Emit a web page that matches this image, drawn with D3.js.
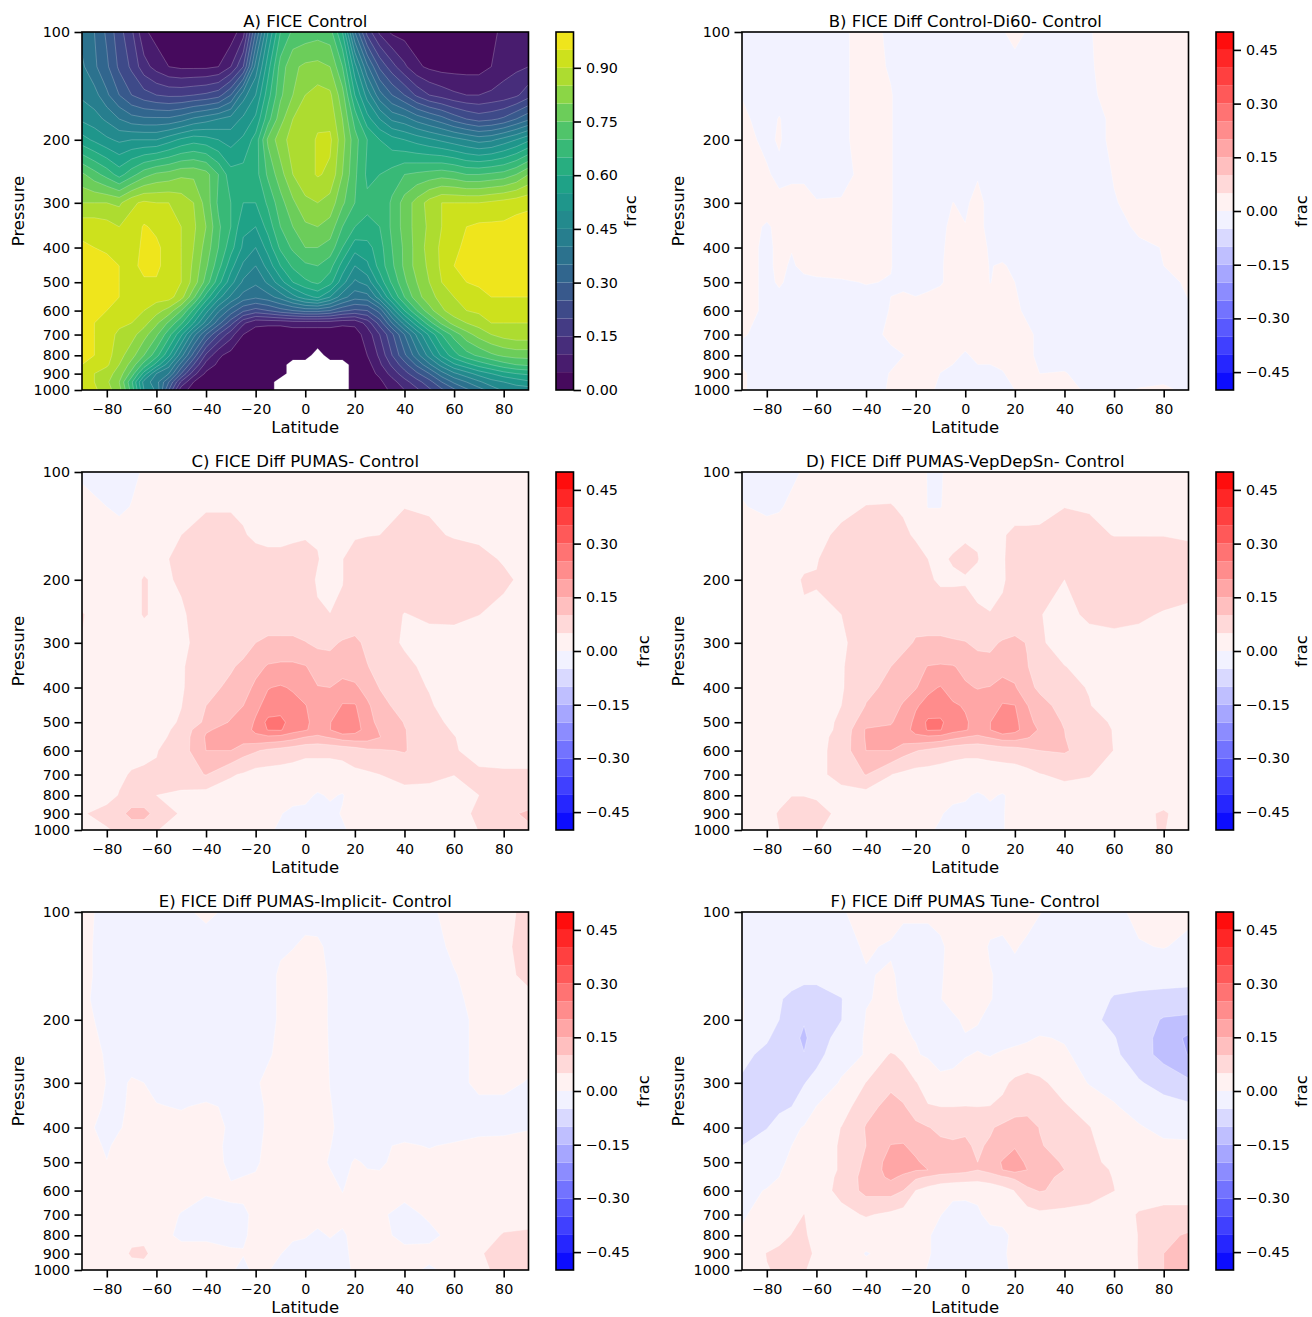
<!DOCTYPE html>
<html><head><meta charset="utf-8">
<script src="https://cdn.jsdelivr.net/npm/d3@7/dist/d3.min.js"></script>
<style>html,body{margin:0;background:#fff}svg{display:block}text{font-family:"DejaVu Sans";fill:#000}</style>
</head><body><svg id="c" width="1312" height="1317"></svg>
<script>
const latsControl = d3.range(-90, 91, 5);
const levelsControl = [100,125,150,175,200,250,300,350,400,450,500,550,600,650,700,800,850,900,950,1000];
const latsDiff = [-90,-80,-75,-70,-65,-60,-50,-40,-30,-25,-20,-15,-10,-5,0,5,10,15,20,25,30,40,50,60,70,80,90];
const levelsDiff = [100,125,150,175,200,250,300,350,400,450,500,600,700,800,900,1000];
const levelsPeak = [100,125,150,175,200,250,300,350,400,450,500,525,550,600,700,800,900,1000];
const levelsTune = [100,125,150,175,200,225,250,300,350,400,450,500,525,550,600,700,800,900,1000];
const xTicks = [-80,-60,-40,-20,0,20,40,60,80];
const yTicks = [100,200,300,400,500,600,700,800,900,1000];
const barTicksControl = [0,.15,.3,.45,.6,.75,.9];
const barTicksDiff = [-.45,-.3,-.15,0,.15,.3,.45];
const titles = ["A) FICE Control","B) FICE Diff Control-Di60- Control","C) FICE Diff PUMAS- Control","D) FICE Diff PUMAS-VepDepSn- Control","E) FICE Diff PUMAS-Implicit- Control","F) FICE Diff PUMAS Tune- Control"];

// cloud ice fraction, percent (rows: pressure levels, columns: latitudes)
const ficeControl = [
[38,35,29,22,16,6,3,2,1,1,1,1,2,8,30,50,65,71,72,73,72,60,35,18,9,4,3,2,2,2,2,2,3,4,6,7,8],
[41,36,31,24,19,12,8,5,4,4,4,5,10,20,42,58,72,79,81,81.5,80,70,52,36,24,17,11,6,4,3,3,3,3,5,8,9,10],
[44,42,36,30,25,22,20,19,19,20,21,23,30,43,50,63,74,80,85,87,86,77,60,48,37,30,25,19,15,13,11,10,10,11,12,14,18],
[49,47,44,40,37,36,36,36,38,41,43,45,47,51,56,68,78,85,88,89,88.5,80,68,57,50,44,42,38,35,32,28,25,23,24,26,30,34],
[57,54,51,49,50,50,50,53,56,58,57,55,53,56,62,76,83,87,88,90.5,91,82,72,65,60,57,55,53,51,49,47,45,43,44,47,50,54],
[76,72,68,63,68,73,76,77,79,79,77,70,62,62,63,71,78,85,88,90.5,89,80,71,64,65,67,70,71,72,73,72,70,70,71,72,75,80],
[85,85,85,84,89,91,90,90,88,85,78,69,65,60,60,66,73,79,84,85,83,76,70,66,65,71,77,82,87,90,90,90,90,91,92,93,94],
[93,93,92,90,92,95.5,94,92,90,86,80,71,65,56,55,62,70,75,79,80,78,70,65,64,65,71,77,82,86,90,93,95,96,96,96,97,97],
[96,95,94,92,93,96,96,93,90,85,78,70,62,54,50,57,66,71,75,75,73,65,57,58,63,70,76,82,87,91,94,96,97,97,97,98,98],
[98,97,97,95,94,96,96,93,90,84,76,67,57,49,45,52,60,66,69,70,67,58,50,54,62,69,76,82,86,91,95,97,97,97,97,97,97],
[98,97,97,95,94,94.5,94.5,93,90,83,73,62,52,44,41,46,53,60,64,66,62,52,44,47,57,66,74,80,85,90,93,95,96,97,97,97,97],
[98,97,96,95,93,92,92,92,87,76,63,52,44,38,36,38,42,48,53,56,50,42,37,38,48,60,70,78,83,87,90,92,93,95,95,95,95],
[97,96,95,94,92,90,87,83,75,64,52,41,33,26,23,25,28,30,32,32,30,26,24,25,32,47,60,70,78,84,88,90,91,92,92,91,91],
[96,95,93,91,90,87,81,74,66,55,43,32,22,11,6,6,6,7,7,7,7,6,6,12,22,35,47,58,68,76,82,85,87,90,90,90,90],
[96,95,92,89,87,82,76,67,56,42,30,20,12,5,3,2,2,2,2,2,2,2,3,7,15,24,35,46,56,65,72,78,82,85,87,88,88],
[96,95,92,87,82,75,67,56,42,28,14,6,3,1.5,1,1,1,1,1,-1,1,1,2,5,11,20,29,38,47,56,63,68,71,74,76,77,77],
[95,94,91,85,78,68,58,47,33,20,8,4,2,1,1,1,1,-1,-1,-1,-1,-1,1,3,9,16,23,31,39,47,54,58,62,65,68,70,71],
[91,90,87,83,73,58,45,40,25,12,4,2,1,1,1,1,1,-1,-1,-1,-1,-1,1,3,6,12,18,24,30,38,44,48,52,55,58,60,61],
[93,90,86,80,66,48,42,30,14,5,2,1,1,1,1,1,-1,-1,-1,-1,-1,-1,1,2,4,8,13,18,23,30,36,40,44,48,50,52,54],
[95,91,87,82,68,50,44,25,7,3,1,1,1,1,1,1,-1,-1,-1,-1,-1,-1,1,1,3,6,10,14,19,24,29,34,38,42,46,47,47]];

const diffDi60 = [
[-2,-2,-2,-2,-2,-2,-1,2,-1,-2,-2,-2,-2,-2,-2,-2,-2,-0.5,2,-0.5,-2,-2,-0.3,2,2,2,2],
[-2,-2,-2,-2,-2,-2,-1,2,-0.5,-2,-2,-2,-2,-2,-2,-2,-2,-2,-2,-2,-2,-2,-0.5,2,2,2,2],
[-0.2,-2,-2,-2,-2,-2,-1,2,0.3,-2,-2,-2,-2,-2,-2,-2,-2,-2,-2,-2,-2,-2,-1,2,2,2,2],
[1,-2,0.3,-2,-2,-2,-1,2,0.3,-2,-2,-2,-2,-2,-2,-2,-2,-2,-2,-2,-2,-2,-2,1,2,2,2],
[1.5,-1,0.5,-2,-2,-2,-1,2,0.3,-2,-2,-2,-2,-2,-2,-2,-2,-2,-2,-2,-2,-2,-2,1,2,2,2],
[2,0.5,-1,-1,-1,-2,-2,2,0.3,-2,-2,-2,-2,-2,-2,-0.3,-2,-2,-2,-2,-2,-2,-2,0.2,2,2,2],
[2,2,1,2,2,0.3,0.5,2,0.3,-2,-2,-2,-2,0.05,-0.5,1,-1,-2,-2,-2,-2,-2,-2,-0.2,1,2,2],
[2,-0.5,1,2,2,2,2,2,0.2,-2,-2,-2,-1,1,0.1,1,-1,-2,-2,-2,-2,-2,-2,-1,0.5,1,2],
[2,-1,1,0.2,2,2,2,2,0.2,-2,-2,-2,-0.5,1,1,1,-0.3,-2,-2,-2,-2,-2,-2,-2,-0.5,0.1,2],
[2,-1,1,-0.5,1,2,2,2,0.2,-2,-2,-2,-0.3,1,2,2,-0.2,0.5,-1,-2,-2,-2,-2,-2,-1,0,2],
[2,-1,0.5,-1,-1,-1,-0.5,0.2,-0.2,-1,-1,-0.5,-0.3,1,2,2,-0.1,1,0,-1,-2,-2,-2,-2,-2,-1,0.5],
[1,-0.5,-2,-2,-2,-2,-2,-2,0.2,2,1,1,2,2,2,2,2,2,1,-1,-2,-2,-2,-2,-2,-2,-0.3],
[0.3,-1,-2,-2,-2,-2,-2,-2,1,2,2,2,2,2,2,2,2,2,2,1,-1,-2,-2,-2,-2,-2,-2],
[-1,-2,-2,-2,-2,-2,-2,-2,-1,-0.1,1,2,2,1,-0.5,1,1,1,2,1,-1,-2,-2,-2,-2,-2,-2],
[0.5,-2,-2,-2,-2,-2,-2,-2,0.2,2,2,2,-0.1,-1,-1,-1,-1,-0.2,1,2,0,0.3,-2,-2,-2,-2,-2],
[0.5,-2,-2,-2,-2,-2,-2,-2,0.5,2,2,1,-1,-2,-2,-2,-2,-1,0,2,2,2,-1,-1,0.3,1,-1]];

const diffPumas = [
[-1,-1,-1,-1,0.5,2,2,2,2,2,2,2,2,2,2,2,2,2,2,2,2,2,2,2,2,2,2],
[2,0,-1,0.2,2,3,3,4.5,4.5,4,4,4,4,4,4,4,4,4,4,4,4,4.8,4.5,4,3.5,3,3],
[2,2,2,3,3,3.5,5,7,7,5.5,4,4,4,4,4.5,4.5,4.5,4.5,4.5,4.8,5,8,6,4.5,4,3.5,3],
[2,2,2,2.5,3,4,6,8,8,8,7,6,6,7,7,5.3,3,4.9,7,8,8,9,9,8,6.5,4.5,3],
[2,2,2,3,5.5,4,5.5,8,8,8,8,8,8,8,7,4.5,3,4.9,7,8,8,9,9,9,8,6,3.5],
[5.3,2.5,2.5,3,5.5,4,4.5,7,8,8,8,7,7,7,6.5,5.5,5.1,5.5,7,8,8,4.8,6,6.5,5.1,3.5,2],
[4.9,2,2,2,2,3,4.5,6,7,8,10,11,11,11,10.2,9,9,10.5,11,9,7,4.5,3,2.5,2,2,2],
[2,2,2,2,2.5,3,4.5,8,9.5,11,13.5,15.5,16,16,15.3,13,12,13,12,10.2,8.5,6,4,3,2,2,2],
[2,2,2,2,2.5,3,4.5,8.5,11,13,16,19.8,20.5,19.5,17,15.2,15,16.5,16,13,9.8,6.5,4.8,3,2,2,2],
[2,2,2,2,2,3,4.9,10,13,15,19,21.5,22,21.5,20.3,17,16,20.5,20.5,16,12,7.5,5.5,3,2,2,2],
[2,2,2,2,2.5,3,5.5,11,15.5,17.5,20.5,26.5,27,22,21,18,19.8,23,22,17,13.5,9.8,6.5,4,2,2,2],
[2,2,2,2,2.5,3,6.5,14.5,16.5,18,21,25.3,25.5,22,20.5,18,19.9,23.5,22,18,14.5,10.2,7.5,4.5,2,2,2],
[2,2,2,2,2.5,3.5,7,15.5,18,18,19,19,18.5,17,15,14,15.5,17.5,18,17.5,15.2,10.2,8,5.2,2.5,2,2],
[2,2.5,3,3,3.5,4.8,7.5,15,15,12,10.5,9,8,7,6,6,6,6.5,7.5,9,9.5,10.3,7.5,5.5,3,2,2],
[2,3,4,5.5,6,5.5,8,10.2,5.5,4.5,3,3,3,3,3,3,3,3,4,4.3,5,7,6.5,5.1,6,6,6],
[2,3,5.3,6,6,5,4,3,2.5,2.5,2,2,2,1.5,1,-0.5,0.5,-0.3,2,2.5,3,3,3,3,5,6,6],
[4.5,7,8,12,12,8,4.5,3,2.5,2.5,2,1,0.2,-1,-1,-1,-1,0.3,2,2.5,3,3,3,3,6,8.5,11],
[3,4.5,6,6.5,6.5,5.2,3,2,2,2,2,0.5,-0.5,-1,-1,-1,-1,-0.5,1,2,2.5,3,3,3,5.1,7,9]];

const diffVepDepSn = [
[-1,-1,-1,-1,0.5,2,2,3,3,3,2,-0.2,-0.5,2,3,3,3,3,3,3,3,3,3,3,3,3,3],
[0.3,-1,-0.5,1,3,3,4,5.1,5.2,4.5,3,-0.2,-0.2,2,3,3.5,4,4,4,4,4.5,4.9,4.5,4,4,3.5,3],
[1,2,2,3,3.5,4,5.8,8,8,5.8,4.5,4,4,4,4.5,4.5,4.5,4.8,5.5,5.5,5.3,7.5,6.5,4.8,4.8,4.8,4],
[2,2,3,3,4,4.8,7,9,9,8,6.5,5,4.5,5.3,6,5.2,3,4.5,7,8,8,9,9,9,9,8.5,8],
[2,2,2,4,5.4,5.2,7,9,9,8,7,5.5,4.5,4.5,4.7,4,3,4.7,6,7,5.5,5,8,9,9,9,9],
[2,2,2,3,4.5,4.5,5,8,9,9,8,7,7,7,6.5,5.5,5.2,5.5,7,8,5.2,3.5,6,7,6,4.5,3],
[2,2,2,2,2,2.5,4.5,6.5,8,8.5,10.5,11,11,10.5,10.2,9,9,10.5,11,9.8,5.5,3.5,3,3,3,2,2],
[2,2,2,2,2,2.5,4.5,8.5,10,12,13.5,15.2,15.5,15.3,14,12,11.5,13,13,10.2,8,5.1,4,3,2,2,2],
[2,2,2,2,2,2.5,4.5,9,11,13,14.5,19,20.3,17.5,15.5,14.8,15.2,17,15.5,11.5,9,6,4.8,3,2,2,2],
[2,2,2,2,2,2.5,5,10.2,13,15.5,19.5,21.5,22,20.8,19.5,17,16.5,20.5,20.2,15.2,12,8,5.2,3,2,2,2],
[2,2,2,2,2,3,5.8,13,14.5,17.5,21,26,26,22,20.7,18,19.9,23,21.5,16.5,13.5,9.5,6.5,4.5,2,2,2],
[2,2,2,2,2,3,6,15.5,16,18,21.5,25.5,25.2,22,20.5,18,19.9,23.5,21.5,17.5,14.5,10,7,4.8,2,2,2],
[2,2,2,2,2.5,3.5,6.5,15.5,18,18,19,19,18.5,16.5,15,14,15.5,17.5,17.5,15.5,13,10.1,7.5,4.8,2.5,2,2],
[2,2,2,2,2.5,3.5,7,15,15,12,10.3,9,7.5,6.5,6,6,6.5,7,7.5,9,10,10.5,8,4.9,3,2,2],
[2,2,2,2,2.5,3.5,7,10.2,5.1,4,3,3,3,3,3,3,3,3,3,3.5,4.8,6,5.3,3,2.5,2.5,2.5],
[2,3,4,4.9,4.9,4.5,3,3,3,3,3,2,2,1,0.5,-0.5,0.5,-0.3,1,2,3,3,3,3,3,3,3],
[2,4,5.3,7,7,6.5,4,3,3,3,2,1,0.3,-1,-1,-1,-1,-0.3,1.5,2,3,3,3,3,4,5.5,3],
[2,3.5,5,6,6,5.5,3,3,3,3,2,0.5,-0.5,-1,-1,-1,-1,-0.3,1.5,2,3,3,3,3,4.5,5.2,3]];

const diffImplicit = [
[2,-2,-2,-2,-2,-2,-1,1,-1,-2,-2,-2,-2,-2,-2,-2,-2,-2,-2,-2,-2,-2,-1,2,3,3,7],
[1.5,-2,-2,-2,-2,-2,-2,-2,-2,-2,-2,-2,-1,-0.2,1,0.8,-1,-2,-2,-2,-2,-2,-2,1,3,4,7],
[1.5,-2,-2,-2,-2,-2,-2,-2,-2,-2,-2,-2,1,2,2,1.5,-0.5,-2,-2,-2,-2,-2,-2,-0.3,2,4,6],
[1,-2,-2,-2,-2,-2,-2,-2,-2,-2,-2,-1,0.5,2,2,2,-0.5,-2,-2,-2,-2,-2,-2,-1,1.5,3,4],
[1,-1,-2,-2,-2,-2,-2,-2,-2,-2,-2,-1,0.5,2,2,2,-0.5,-2,-2,-2,-2,-2,-2,-1.5,1,2,2],
[1.5,-0.3,-2,-2,-2,-2,-2,-2,-2,-2,-2,-0.5,1,2,2,2,-0.3,-2,-2,-2,-2,-2,-2,-1.5,1,1.5,1.5],
[2,-0.1,-1,0.5,0,-1,-2,-2,-2,-2,-0.5,1,2,2,2,2,-0.1,-2,-2,-2,-2,-2,-2,-1.5,1,1,-0.3],
[2,-0.5,-1,1,0.1,0.2,-0.2,0.5,-0.5,-2,-2,1,2,2,2,1,0.2,-1,-2,-2,-2,-2,-2,-2,-1,-1,-1],
[1,-1,-0.3,1,1,1,1,1,-0.3,-2,-2,1,2,2,2,1,0.5,-1,-2,-2,-2,-2,-2,-2,-1,-0.8,-0.2],
[2,-0.5,1,1,1,1,1,1,-0.5,-1,-1,1,2,2,2,1,0.1,-1,-1,-1,-0.5,0.5,-0.2,0.5,1,1,1],
[2,0.1,1,1,1,1,1,1,-0.4,-1,-0.5,1,2,2,2,1,-0.3,-1,0.3,-0.3,-0.4,1,1,1,1,1,1],
[2,1,1,1,1,1,1,0.3,0.2,1,1,1,2,2,2,1,1,-0.1,1,1,1,1,1,1,1,1,1],
[2,2,2,2,2,1,-0.1,-1,-0.2,-0.8,1,1,1,1,1,1,1,1,1,1,0.5,-1,0.5,1,1,2,3],
[2,2,2,3,3,1,-0.5,-0.5,-1,-0.5,1,1,0.5,0.5,0.2,-0.5,0.2,-0.5,1,1,1,-1,-0.8,1,2,5.5,5.8],
[2,2,2,6,6.5,2,1,1,0.5,0.2,1,1,0.1,-1,-1,-1,-1,-1,1,1,1,1,1,1,4.5,7,7],
[2,2,2,2,2,1,1,1,0.5,-1,1,0.2,-1,-1,-1,-1,-1,-1,0.5,1,1,1,-0.5,1,4.2,6,6]];

const diffTune = [
[-2,-3,-3,-3,-3,-3,-0.5,2,2,0.5,0.5,0.5,1,2,2,2,2,2,2,2,0.2,-2,-2,-1,1,2,1],
[-2,-3,-3,-3,-3,-3,-1.5,0.5,-0.5,-1,-1,-1,-0.5,1,2,2,-0.5,-1,0.5,-1,-2,-2,-2,-1,-0.3,0.2,-1],
[-3,-3,-3,-4,-4,-4,-2,-0.3,0.5,-1,-2,-2,-0.3,1,2,1.5,0.3,-1,-1.5,-2,-2,-2,-2,-2.5,-3,-3,-3],
[0.3,-4,-4.8,-5.5,-6.5,-6.5,-5.2,-0.2,0.6,-0.5,-2,-2,-0.1,1,2,1.5,0.2,-1,-2,-2,-2,-2,-2,-5.5,-6,-6.5,-7],
[0.3,-4,-5,-7,-9.5,-7.5,-5.1,0.2,0.7,0.1,-2,-2,-1.5,-0.5,0.5,0.3,-1,-2,-2,-2,-2,-3,-4,-6,-7.5,-10.5,-11],
[-3.5,-4.5,-6.5,-8,-11,-7,-3.5,0.5,0.8,0.3,-0.1,-2,-2,-1.5,-0.2,-0.7,-2,-1.5,-1,-0.5,0.3,-0.3,-2.5,-4.8,-7.5,-12,-16],
[-4,-6,-6.5,-8,-9.8,-6.5,-2,0.3,5.5,4,0.3,-0.5,-1.5,-1,-0.2,0.2,-0.2,0.5,1,1.5,1.5,0.5,-1.5,-4,-8,-11.5,-15.2],
[-5.5,-6.5,-7,-7,-5.2,-3.5,0.5,5.1,9,7.5,5.3,3,1,1,1.5,1.5,2.5,4,6,7,6,3,-0.3,-2,-4.5,-7,-9],
[-7,-7,-6,-5,-3,0.1,2.5,8.5,11.5,10.5,8,5.3,5,5,5.1,5,5.1,6,7.5,8,8,5.5,3,0.5,-2,-3,-4],
[-6.5,-5.2,-3,-1,0.3,2,5.1,10.3,12.5,12,11,10.2,9,9,9.5,8,9.5,11,12.5,12.5,9.8,7.5,5.2,2,0.5,-1.5,-2],
[-5,-2.5,-1,0,1,2.5,5.5,10,15.2,15.5,13,12,11,10.5,10.5,9.5,10.5,12,14.5,13,10.5,7.5,6,2.5,1.5,1,1],
[-3.5,-2,-0.5,0.5,1,2.5,5.5,11,17,17,16,13,12,11.5,11,10,12,15.5,17.5,14,12,9.5,6.5,3.5,2,1.5,1],
[-3,-1.5,-0.2,0.7,1,2.5,5.5,11.5,17,16.5,15.5,15,12.5,12,11.5,10.1,11.5,15,17,15,13,10,7,4.5,2,1.5,1],
[-2,-1,0,0.8,1.2,2.5,6,12,16,14,11,9.5,8.5,8,7.5,7,8,9.5,11,12.5,11.5,9,7,4.8,2,2,1.5],
[-1,0.2,1,1,1.5,2.5,6.5,11.5,12,10,5,3,1.5,0.8,0.7,0.8,1.5,3,5.2,9,10.3,9,7.5,5.1,2,2,2],
[-0.3,1,1.5,3,5.1,3,3.5,5.5,4,3,2.5,1.5,0.1,-1,-1,-0.5,1,1.5,2,3,4,3.5,3,2,5.5,7,7],
[0.3,2,3,5.2,5.8,3,2,1.5,1.5,1.5,1.5,0.3,-1,-0.5,-1,-0.5,-1,-1,1,1.5,1.5,1.5,1.5,1.5,5.2,9,10.5],
[1,5.2,6.5,7,7,4,2,-0.2,1,1,1,0.3,-1,-1,-1,-1,-1,-0.5,1,1.5,1.5,1.5,1.5,2,5.2,10,12],
[1,4.8,5.5,6,5.5,3,2,1,1,1,1,-0.2,-1,-1,-1,-1,-1,-1,1,1.5,1.5,1.5,1.5,2,5.1,10,11]];

const svg = d3.select("#c");
const colX = [82, 742], rowY = [32, 472, 912], W = 446.5, H = 358;
const FS = 16.5, TICK_FS = 14.3;
const bandsControl = d3.range(0, 100, 5);
const bandsDiff = d3.range(-50, 50, 5);
const bwr = d3.scaleLinear([-0.5,0,0.5], ["#0000ff","#ffffff","#ff0000"]);
const colorControl = t => d3.interpolateViridis((t + 2.5) / 100);
const colorDiff = t => bwr((t + 2.5) / 100);

const diffStyle = {lats: latsDiff, bands: bandsDiff, color: colorDiff, step: 5, ticks: barTicksDiff, dom: [-.5,.5], seam: .5};
const panels = [
  {values: ficeControl, lats: latsControl, levels: levelsControl, bands: bandsControl, color: colorControl, step: 5, ticks: barTicksControl, dom: [0,1], seam: .38},
  {values: diffDi60, levels: levelsDiff, ...diffStyle},
  {values: diffPumas, levels: levelsPeak, ...diffStyle},
  {values: diffVepDepSn, levels: levelsPeak, ...diffStyle},
  {values: diffImplicit, levels: levelsDiff, ...diffStyle},
  {values: diffTune, levels: levelsTune, ...diffStyle}
];

function styleAxis(g) {
  g.select(".domain").remove();
  g.selectAll(".tick line").attr("stroke", "#000").attr("stroke-width", 1.6);
  g.selectAll(".tick text").attr("font-size", TICK_FS).attr("font-family", "DejaVu Sans").attr("fill", "#000");
}

panels.forEach((p, i) => {
  const x0 = colX[i % 2], y0 = rowY[Math.floor(i / 2)];
  const g = svg.append("g").attr("transform", `translate(${x0},${y0})`);
  const x = d3.scaleLinear([-90, 90], [0, W]);
  const y = d3.scaleLog([100, 1000], [0, H]);
  const nx = p.lats.length, ny = p.levels.length;
  const colToPx = d3.scaleLinear(d3.range(nx), p.lats.map(d => x(d)));
  const rowToPx = d3.scaleLinear(d3.range(ny), p.levels.map(d => y(d)));
  const path = d3.geoPath(d3.geoTransform({
    point(cx, cy) { this.stream.point(colToPx(cx - .5), rowToPx(cy - .5)); }
  }));
  const clipId = "clip" + i;
  g.append("clipPath").attr("id", clipId).append("rect").attr("width", W).attr("height", H);
  const contours = d3.contours().size([nx, ny]).thresholds(p.bands)(p.values.flat());
  g.append("g").attr("clip-path", `url(#${clipId})`)
    .selectAll("path").data(contours).join("path")
    .attr("d", path)
    .attr("fill", d => p.color(d.value))
    .attr("stroke", "#fff").attr("stroke-opacity", p.seam).attr("stroke-width", .6);

  g.append("rect").attr("width", W).attr("height", H).attr("fill", "none").attr("stroke", "#000").attr("stroke-width", 1.6);

  g.append("g").attr("transform", `translate(0,${H})`)
    .call(d3.axisBottom(x).tickValues(xTicks).tickFormat(d3.format("d")).tickSize(7.5).tickPadding(6)).call(styleAxis);
  g.append("g")
    .call(d3.axisLeft(y).tickValues(yTicks).tickFormat(d3.format("d")).tickSize(7.5).tickPadding(4.5)).call(styleAxis);

  g.append("text").attr("x", W / 2).attr("y", -5.5).attr("text-anchor", "middle").attr("font-size", FS).text(titles[i]);
  g.append("text").attr("x", W / 2).attr("y", H + 43).attr("text-anchor", "middle").attr("font-size", FS).text("Latitude");
  g.append("text").attr("transform", `translate(-58,${H / 2}) rotate(-90)`).attr("text-anchor", "middle").attr("font-size", FS).text("Pressure");

  // colorbar
  const cbW = 17.5, cb = g.append("g").attr("transform", `translate(474,0)`);
  const c = d3.scaleLinear(p.dom, [H, 0]);
  cb.selectAll("rect.band").data(p.bands).join("rect").attr("class", "band")
    .attr("x", 0).attr("width", cbW)
    .attr("y", d => c((d + p.step) / 100)).attr("height", d => c(d / 100) - c((d + p.step) / 100))
    .attr("fill", d => p.color(d));
  cb.append("rect").attr("width", cbW).attr("height", H).attr("fill", "none").attr("stroke", "#000").attr("stroke-width", 1.6);
  cb.append("g").attr("transform", `translate(${cbW},0)`)
    .call(d3.axisRight(c).tickValues(p.ticks).tickFormat(d3.format(".2f")).tickSize(7.5).tickPadding(5)).call(styleAxis);
  const labelX = i === 0 ? 62 : (i % 2 ? 73.5 : 75);
  cb.append("text").attr("transform", `translate(${cbW + labelX},${H / 2}) rotate(-90)`).attr("text-anchor", "middle").attr("font-size", FS).text("frac");
});
</script></body></html>
